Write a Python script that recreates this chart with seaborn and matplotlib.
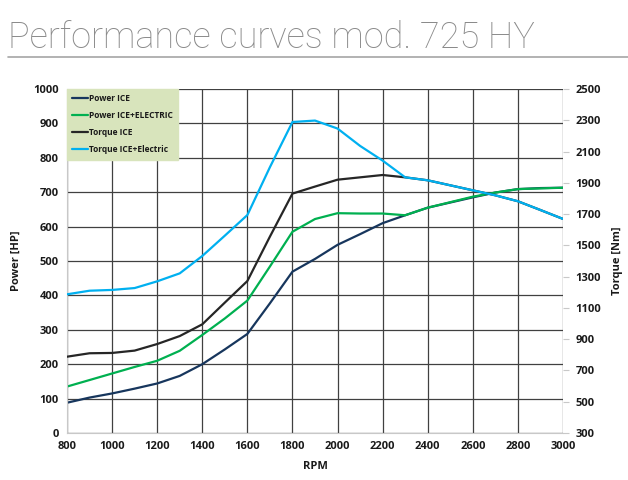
import numpy as np
import pandas as pd
import seaborn as sns
import matplotlib.pyplot as plt
from matplotlib.lines import Line2D

rpm = [800, 900, 1000, 1100, 1200, 1300, 1400, 1500, 1600, 1700, 1800, 1900,
       2000, 2100, 2200, 2300, 2400, 2500, 2600, 2700, 2800, 2900, 3000]

power_ice = [88, 103, 115, 129, 144, 166, 200, 243, 288, 377, 469, 506,
             547, 578, 610, 633, 655, 670, 685, 699, 709, 712, 713]
power_hybrid = [135, 154, 173, 192, 210, 239, 285, 333, 385, 484, 585, 622,
                639, 638, 638, 633, 655, 671, 687, 699, 709, 711, 713]
torque_ice = [788, 810, 812, 827, 869, 920, 995, 1134, 1272, 1556, 1831, 1876,
              1920, 1935, 1950, 1935, 1916, 1884, 1852, 1820, 1782, 1726, 1669]
torque_hybrid = [1187, 1210, 1215, 1227, 1270, 1321, 1432, 1562, 1694, 2000, 2289, 2298,
                 2247, 2136, 2042, 1935, 1916, 1884, 1852, 1820, 1782, 1726, 1669]

labels = ["Power ICE", "Power ICE+ELECTRIC", "Torque ICE", "Torque ICE+Electric"]
colors = ["#17365d", "#00b050", "#262626", "#00b0f0"]

df = pd.DataFrame({"rpm": rpm, "p_ice": power_ice, "p_hyb": power_hybrid,
                   "t_ice": torque_ice, "t_hyb": torque_hybrid})

sns.set_style("white")
plt.rcParams["font.family"] = ["Open Sans", "DejaVu Sans"]

fig = plt.figure(figsize=(6.28, 4.8), dpi=100)
ax1 = fig.add_axes([0.1067, 0.0979, 0.7898, 0.7167])
ax2 = ax1.twinx()

# Power on the left axis
sns.lineplot(data=df, x="rpm", y="p_ice", ax=ax1, color=colors[0], lw=1.6)
sns.lineplot(data=df, x="rpm", y="p_hyb", ax=ax1, color=colors[1], lw=1.6)
# Torque on the right axis
sns.lineplot(data=df, x="rpm", y="t_ice", ax=ax2, color=colors[2], lw=1.6)
sns.lineplot(data=df, x="rpm", y="t_hyb", ax=ax2, color=colors[3], lw=1.6)

ax1.set_xlim(800, 3000)
ax1.set_ylim(0, 1000)
ax2.set_ylim(300, 2500)
ax1.set_xticks(range(800, 3001, 200))
ax1.set_yticks(range(0, 1001, 100))
ax2.set_yticks(range(300, 2501, 200))

ax1.grid(True, color="#404040", lw=0.9)
ax2.grid(False)
ax1.set_axisbelow(True)

for ax in (ax1, ax2):
    for s in ax.spines.values():
        s.set_visible(False)
ax1.spines["left"].set_visible(True)
ax1.spines["left"].set_color("#c8c8c8")
ax1.spines["bottom"].set_visible(True)
ax1.spines["bottom"].set_color("#c8c8c8")

tick_font = dict(fontsize=8, fontweight="bold", color="#1a1a1a")
for lab in ax1.get_xticklabels() + ax1.get_yticklabels() + ax2.get_yticklabels():
    lab.set_fontsize(8)
    lab.set_fontweight("bold")
    lab.set_color("#1a1a1a")
ax1.tick_params(axis="both", length=0, pad=6)
ax2.tick_params(axis="y", length=4, color="#c8c8c8", pad=5)

ax1.set_xlabel("RPM", **tick_font, labelpad=6)
ax1.set_ylabel("Power [HP]", **tick_font, labelpad=8)
ax2.set_ylabel("Torque [Nm]", **tick_font, labelpad=8)

handles = [Line2D([], [], color=c, lw=1.6) for c in colors]
leg = ax2.legend(handles, labels, loc="upper left", bbox_to_anchor=(0, 1),
                 frameon=True, fancybox=False, borderaxespad=0,
                 prop={"size": 6, "weight": "bold"}, handlelength=1.9,
                 handletextpad=0.1, labelspacing=0.95, borderpad=0.65)
leg.get_frame().set_facecolor("#d8e4bc")
leg.get_frame().set_edgecolor("#d8e4bc")
leg.get_frame().set_alpha(1)
for t in leg.get_texts():
    t.set_color("#1a1a1a")

fig.text(8 / 628, 1 - 48 / 480, "Performance curves mod. 725 HY",
         fontsize=26, color="#8a8a8a", family=["Roboto", "DejaVu Sans"],
         fontweight="light", va="baseline", ha="left")
fig.add_artist(Line2D([8 / 628, 1], [1 - 57 / 480, 1 - 57 / 480],
                      color="#a6a6a6", lw=1.2))

fig.savefig("out.png", dpi=100)
